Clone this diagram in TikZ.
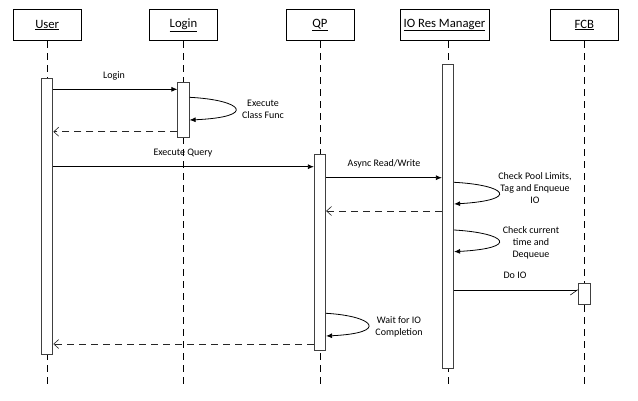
\documentclass[tikz,border=0pt]{standalone}
\usepackage{fontspec}
\setmainfont{Carlito}
\usetikzlibrary{arrows.meta}
\begin{document}
\begin{tikzpicture}[x=1pt,y=-1pt,
  head/.style={draw=black, line width=0.8pt, fill=white, minimum width=68pt, minimum height=31.4pt, inner sep=0pt, font=\fontsize{12.7}{14}\selectfont},
  life/.style={draw=black, line width=0.8pt, dash pattern=on 7pt off 5pt},
  act/.style={draw=black!75, line width=0.9pt, fill=white, minimum width=11.3pt, inner sep=0pt},
  msg/.style={draw=black, line width=0.8pt, -{Latex[length=6pt,width=5pt]}},
  ret/.style={draw=black!85, line width=0.8pt, dash pattern=on 7pt off 5pt, -{Straight Barb[length=5pt,width=9pt,line width=0.6pt]}},
  lbl/.style={font=\fontsize{10}{12}\selectfont, align=center, inner sep=0pt}
]
\useasboundingbox[fill=white] (0,0) rectangle (638,400);

% header boxes
\node[head] (uh) at (47.2,25) {\underline{User}};
\node[head] (lh) at (183.5,25) {\underline{Login}};
\node[head] (qh) at (320,25) {\underline{QP}};
\node[head, minimum width=89pt] (ih) at (444.5,25) {\underline{IO Res Manager}};
\node[head, minimum width=67.3pt] (fh) at (584.4,25) {\underline{FCB}};

% lifeline ends
\coordinate (ue) at (47.2,387);
\coordinate (le) at (183.5,387);
\coordinate (qe) at (320,387);
\coordinate (ie) at (448,387);
\coordinate (fe) at (584.4,387);

\draw[life] (uh.south) -- (ue);
\draw[life] (lh.south) -- (le);
\draw[life] (qh.south) -- (qe);
\draw[life] (ih.south -| ie) -- (ie);
\draw[life] (fh.south) -- (fe);

% activation boxes
\node[act, minimum height=275.3pt] (ua) at (47.2,216.35) {};
\node[act, minimum height=55pt] (la) at (183.5,110.2) {};
\node[act, minimum height=195.3pt] (qa) at (320,252.35) {};
\node[act, minimum height=304.3pt] (ia) at (448,216.15) {};
\node[act, minimum height=21pt] (fa) at (584.4,293.8) {};

% Login
\draw[msg] (ua.east |- 0,89.3) -- (la.west |- 0,89.3);
\node[lbl] (t1) at (114,76) {Login};

% Execute Class Func
\draw[msg] (la.east |- 0,97.3) .. controls (243,100) and (258,117) .. (la.east |- 0,120);
\node[lbl] (t2) at (263,109) {Execute\\Class Func};

% return to user
\draw[ret] (la.west |- 0,131.7) -- (ua.east |- 0,131.7);

% Execute Query
\draw[msg] (ua.east |- 0,166.7) -- (qa.west |- 0,166.7);
\node[lbl] (t3) at (183,152.7) {Execute Query};

% Async Read/Write
\draw[msg] (qa.east |- 0,177.7) -- (ia.west |- 0,177.7);
\node[lbl] (t4) at (384,164) {Async Read/Write};

% Check Pool Limits
\draw[msg] (ia.east |- 0,182.3) .. controls (506,185) and (521,200) .. (ia.east |- 0,204);
\node[lbl] (t5) at (535,188) {Check Pool Limits,\\Tag and Enqueue\\IO};

% return to QP
\draw[ret] (ia.west |- 0,211) -- (qa.east |- 0,211);

% Check current time
\draw[msg] (ia.east |- 0,230) .. controls (506,233) and (521,248) .. (ia.east |- 0,251.7);
\node[lbl] (t6) at (531,243) {Check current\\time and\\Dequeue};

% Do IO
\draw[draw=black, line width=0.8pt, -{Straight Barb[harpoon,swap,length=7pt,width=10pt,line width=0.6pt]}] (ia.east |- 0,290) -- (fa.west |- 0,290);
\node[lbl] (t7) at (515,275.7) {Do IO};

% Wait for IO Completion
\draw[msg] (qa.east |- 0,313.3) .. controls (374,316) and (390,333) .. (qa.east |- 0,336);
\node[lbl] (t8) at (399,327) {Wait for IO\\Completion};

% final return
\draw[ret] (qa.west |- 0,344) -- (ua.east |- 0,344);
\end{tikzpicture}
\end{document}
